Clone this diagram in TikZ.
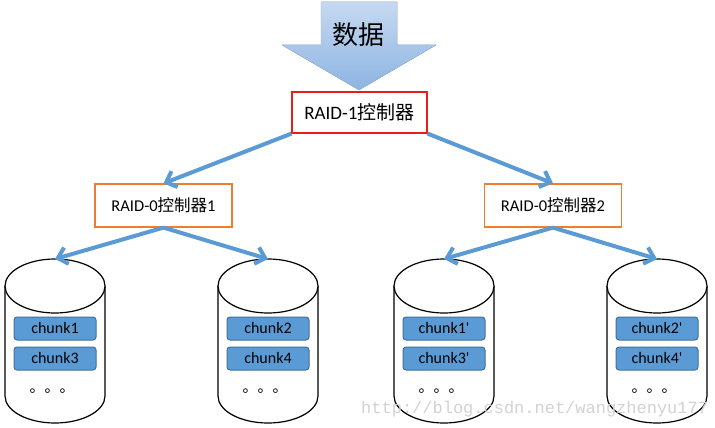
\documentclass[tikz,border=0pt]{standalone}
\usepackage{fontspec}
\setmainfont{Carlito}[Ligatures=TeXOff]
\newfontfamily\cjk{Noto Sans CJK SC}
\newfontfamily\markfont{Liberation Mono}
\usetikzlibrary{arrows.meta}
\definecolor{arrowblue}{HTML}{5B9BD5}
\definecolor{chunkedge}{HTML}{41719C}
\definecolor{ctrlred}{HTML}{E3201B}
\definecolor{ctrlorange}{HTML}{ED7D31}
\definecolor{bigtop}{HTML}{C6D9F1}
\definecolor{bigbottom}{HTML}{8DB4E2}
\definecolor{bigedge}{HTML}{9BBBE0}
\tikzset{
	raid1-box/.style={shape=rectangle,draw=ctrlred,line width=1.2pt,fill=white,minimum width=135pt,minimum height=41pt,font=\fontsize{19}{22}\selectfont},
	raid0-box/.style={shape=rectangle,draw=ctrlorange,line width=1.2pt,fill=white,minimum width=137pt,minimum height=43pt,font=\fontsize{16.5}{20}\selectfont},
	chunk/.style={shape=rectangle,rounded corners=3pt,draw=chunkedge,line width=1pt,fill=arrowblue,minimum width=82pt,minimum height=23pt,inner sep=0pt,font=\fontsize{16}{19}\selectfont},
	disk/.style={line width=1.2pt,draw=black,fill=white},
	dots/.style={inner sep=0pt,anchor=base,font=\cjk\fontsize{15}{15}\selectfont},
	watermark/.style={inner sep=0pt,anchor=west,text=gray!35,font=\markfont\fontsize{17}{20}\selectfont},
}
\tikzstyle{arrow} = [line width=4pt,color=arrowblue,-{Straight Barb[length=9pt,width=17pt]}]

\begin{document}
\begin{tikzpicture}[x=1pt,y=1pt]
	\useasboundingbox (0,0) rectangle (715,-428);

	% big input arrow
	\fill[top color=bigtop,bottom color=bigbottom,draw=bigedge] (321,-2) -- (397,-2) -- (397,-45) -- (436,-45) -- (359,-90) -- (282,-45) -- (321,-45) -- cycle;
	\node[inner sep=0pt,font=\cjk\fontsize{26}{30}\selectfont] (data) at (358,-35) {数据};

	% controllers
	\node[raid1-box] (raid1) at (359.5,-112.5) {RAID-1{\cjk 控制器}};
	\node[raid0-box] (raid0a) at (163.5,-205.5) {RAID-0{\cjk 控制器}1};
	\node[raid0-box] (raid0b) at (553,-205.5) {RAID-0{\cjk 控制器}2};

	% disks
	\foreach \cx/\nm in {55/diskA,268/diskB,444/diskC,657/diskD} {
		\draw[disk] (\cx-50,-286) -- (\cx-50,-396) arc[start angle=180,end angle=360,x radius=50,y radius=27] -- (\cx+50,-286);
		\draw[disk] (\cx,-286) ellipse [x radius=50,y radius=27];
		\coordinate (\nm) at (\cx,-259);
	}

	\node[chunk] (c1) at (55,-328.5) {chunk1};
	\node[chunk] (c3) at (55,-358.5) {chunk3};
	\node[chunk] (c2) at (268,-328.5) {chunk2};
	\node[chunk] (c4) at (268,-358.5) {chunk4};
	\node[chunk] (c1m) at (444,-328.5) {chunk1'};
	\node[chunk] (c3m) at (444,-358.5) {chunk3'};
	\node[chunk] (c2m) at (657,-328.5) {chunk2'};
	\node[chunk] (c4m) at (657,-358.5) {chunk4'};

	\node[dots] (dotsA) at (52,-392) {。。。};
	\node[dots] (dotsB) at (265,-392) {。。。};
	\node[dots] (dotsC) at (441,-392) {。。。};
	\node[dots] (dotsD) at (654,-392) {。。。};

	\path [arrow] (raid1.south west) edge (raid0a.north);
	\path [arrow] (raid1.south east) edge (raid0b.north);
	\path [arrow] (raid0a.south) edge (diskA);
	\path [arrow] (raid0a.south) edge (diskB);
	\path [arrow] (raid0b.south) edge (diskC);
	\path [arrow] (raid0b.south) edge (diskD);

	\node[watermark] (mark) at (361,-409) {http://blog.csdn.net/wangzhenyu177};
\end{tikzpicture}
\end{document}
